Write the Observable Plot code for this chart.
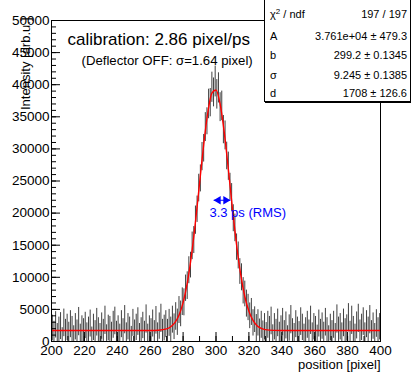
<!DOCTYPE html>
<html><head><meta charset="utf-8">
<script src="https://cdn.jsdelivr.net/npm/d3@7"></script>
<script src="https://cdn.jsdelivr.net/npm/@observablehq/plot@0.6"></script>
<style>
body{margin:0;background:#fff;}
#wrap{position:relative;width:411px;height:373px;font-family:"Liberation Sans",Arial,Helvetica,sans-serif;}
#stats{position:absolute;left:264px;top:-1px;width:145px;height:101px;border:1px solid #000;box-shadow:1px 1px 0 #000;background:#fff;font-size:11px;line-height:11px;color:#000;}
.k{position:absolute;left:5px;white-space:nowrap;}
.v{position:absolute;right:3px;white-space:nowrap;}
sup{font-size:8px;line-height:0;vertical-align:4px;}
</style></head><body><div id="wrap"></div>
<script>
// ---- histogram: 200 bins of width 1 pixel from 200 to 400 ----
const binLow = 200, binWidth = 1;
const counts = [
 2100,1200,2600,900,1800,2400,300,2900,1500,2200,
 1100,2700,1900,600,2300,1400,3100,800,2000,1600,
 2500,1000,1800,2800,400,2200,1300,3000,1700,900,
 2400,1500,3300,700,2100,1900,1100,2600,3200,1200,
 2000,800,2700,1600,3400,1000,2300,1800,500,2900,
 1400,2200,3100,900,1700,2500,1200,3500,800,2000,
 1600,2800,1300,3300,1000,2400,3600,1500,2100,2700,
 1500,2900,1800,3400,2300,3900,3000,4900,4300,6200,
 6100,8300,8700,11100,11900,14900,15800,18900,20600,23900,
 25400,28800,30100,33400,34300,37000,37200,39600,38800,40500,
 38500,39500,36500,36700,33000,32100,28900,27300,24100,22400,
 19200,17700,14700,13400,10900,10000,7900,7400,5900,5300,
 4000,4600,2900,3400,2100,2900,1500,2600,1200,2300,
 1000,2600,1900,3200,700,2300,1500,2900,1100,2000,
 3000,1300,2500,600,2100,3400,1600,900,2700,1800,
 1200,3100,2200,800,1700,2600,1400,3300,1000,2300,
 1900,700,2800,1500,2400,1100,3000,1700,600,2200,
 1300,2600,900,3500,1800,2300,1000,2900,1600,2100,
 3700,1200,3300,1900,800,2500,3600,1400,2200,3100,
 1000,2700,1800,3400,1300,2400,900,2800,1700,2300
];
const errors = [
 2000,1950,2050,1900,2000,2100,1850,2150,1950,2050,
 1900,2100,2000,1850,2050,1950,2200,1900,2000,1950,
 2050,1900,2000,2100,1850,2050,1950,2150,2000,1900,
 2050,1950,2200,1900,2000,2000,1900,2100,2150,1950,
 2000,1900,2100,1950,2200,1900,2050,2000,1850,2100,
 1950,2050,2150,1900,2000,2050,1950,2200,1900,2000,
 1950,2100,1950,2150,1900,2050,2200,1950,2000,2100,
 1950,2100,2000,2100,2000,2150,2050,2100,2000,2150,
 2100,2050,2150,2100,2000,2150,2100,2200,2050,2150,
 2100,2200,2150,2250,2100,2300,2200,2350,2250,2400,
 2300,2350,2250,2300,2200,2250,2150,2200,2100,2200,
 2100,2150,2050,2100,2000,2100,2050,2000,2100,2050,
 2000,2100,2050,2000,2100,2050,2000,2100,2000,2050,
 1950,2100,2000,2150,1900,2050,1950,2150,1900,2000,
 2150,1950,2100,1850,2050,2200,1950,1900,2100,2000,
 1900,2150,2050,1900,2000,2100,1950,2200,1900,2050,
 2000,1850,2100,1950,2050,1900,2150,2000,1850,2050,
 1950,2100,1900,2200,2000,2050,1900,2150,1950,2050,
 2200,1950,2200,2000,1900,2100,2200,1950,2050,2150,
 1900,2100,2000,2200,1950,2050,1900,2150,2000,2050
];
// ---- fit curve (Gaussian + constant) ----
const fitX = [200,250,260,265,270,272.5,275,277.5,280,282.5,285,287.5,290,292.5,295,297.5,300,302.5,305,307.5,310,312.5,315,317.5,320,322.5,325,327.5,330,335,340,350,400];
const fitY = [1710,1710,1710,1750,1960,2290,2930,4100,6060,9060,13270,18600,24630,30630,35630,38690,39180,37000,32600,26840,20720,15070,10440,7010,4700,3280,2470,2060,1850,1730,1710,1710,1710];
// ---- axes ----
const xTickLabels = [200,220,240,260,280,300,320,340,360,380,400];
const yTickLabels = [0,5000,10000,15000,20000,25000,30000,35000,40000,45000,50000];
// ---- texts ----
const titleText = "calibration: 2.86 pixel/ps";
const subtitleText = "(Deflector OFF: σ=1.64 pixel)";
const xTitle = "position [pixel]";
const yTitle = "Intensity [arb.u.]";
const rmsArrow = [{from: 298.6, to: 308.7, level: 22000}];
const rmsLabel = [{text: "3.3 ps (RMS)", x: 296, y: 19400}];
const statsLabels = ["χ<sup>2</sup> / ndf", "A", "b", "σ", "d"];
const statsValues = ["197 / 197", "3.761e+04 ± 479.3", "299.2 ± 0.1345", "9.245 ± 0.1385", "1708 ± 126.6"];

const bins = counts.map((c, i) => ({x: binLow + (i + 0.5) * binWidth, lo: c - errors[i], hi: c + errors[i]}));
const fit = fitX.map((x, i) => ({x, y: fitY[i]}));
const font = '"Liberation Sans", Arial, Helvetica, sans-serif';
const blue = "#0000ff";
const plain = d => String(d);

const chart = Plot.plot({
  width: 411, height: 373,
  marginLeft: 51, marginRight: 31, marginTop: 20, marginBottom: 32,
  x: {domain: [200, 400]},
  y: {domain: [0, 50000]},
  style: {fontFamily: font, fontSize: "13.5px", background: "#fff", color: "#000", overflow: "visible"},
  marks: [
    Plot.ruleX(bins, {x: "x", y1: "lo", y2: "hi", stroke: "#2a2a2a", strokeWidth: 0.9, clip: true}),
    Plot.line(fit, {x: "x", y: "y", stroke: "#ff0000", strokeWidth: 1.4, curve: "monotone-x", clip: true}),
    Plot.link(rmsArrow, {x1: "from", x2: "to", y1: "level", y2: "level", stroke: blue, strokeWidth: 1}),
    Plot.dot(rmsArrow, {x: "from", y: "level", symbol: "triangle", rotate: -90, r: 3.1, fill: blue, stroke: "none", dx: 4.6}),
    Plot.dot(rmsArrow, {x: "to", y: "level", symbol: "triangle", rotate: 90, r: 3.1, fill: blue, stroke: "none", dx: -4.6}),
    Plot.text(rmsLabel, {x: "x", y: "y", text: "text", fill: blue, fontSize: 13, textAnchor: "start", lineAnchor: "bottom"}),
    Plot.frame({stroke: "#000", strokeWidth: 1}),
    Plot.axisX(xTickLabels, {tickSize: 0, tickPadding: 4, label: null, fontSize: 13.5, tickFormat: plain}),
    Plot.axisX(xTickLabels, {tickSize: -9, fill: "none", label: null}),
    Plot.axisX(d3.range(200, 401, 10), {tickSize: -5, fill: "none", label: null}),
    Plot.axisY(yTickLabels, {tickSize: 0, tickPadding: 2, label: null, fontSize: 13.5, tickFormat: plain}),
    Plot.axisY(yTickLabels, {tickSize: -9, fill: "none", label: null}),
    Plot.axisY(d3.range(0, 50001, 1000), {tickSize: -5, fill: "none", label: null}),
    Plot.text([titleText], {frameAnchor: "top-left", dx: 16, dy: 24, textAnchor: "start", lineAnchor: "bottom", fontSize: 17}),
    Plot.text([subtitleText], {frameAnchor: "top-left", dx: 30, dy: 44, textAnchor: "start", lineAnchor: "bottom", fontSize: 13.2}),
    Plot.text([xTitle], {frameAnchor: "bottom-right", dx: 0, dy: 27, textAnchor: "end", lineAnchor: "bottom", fontSize: 13}),
    Plot.text([yTitle], {frameAnchor: "top-left", dx: -22, dy: -3, rotate: -90, textAnchor: "end", lineAnchor: "bottom", fontSize: 13})
  ]
});

const wrap = document.getElementById("wrap");
wrap.appendChild(chart);
const stats = document.createElement("div");
stats.id = "stats";
const baselines = [18, 40, 59.5, 79, 97];
statsLabels.forEach((lab, i) => {
  const k = document.createElement("div");
  k.className = "k"; k.innerHTML = lab; k.style.top = (baselines[i] - 9.5) + "px";
  const v = document.createElement("div");
  v.className = "v"; v.textContent = statsValues[i]; v.style.top = (baselines[i] - 9.5) + "px";
  stats.appendChild(k); stats.appendChild(v);
});
wrap.appendChild(stats);
</script></body></html>
